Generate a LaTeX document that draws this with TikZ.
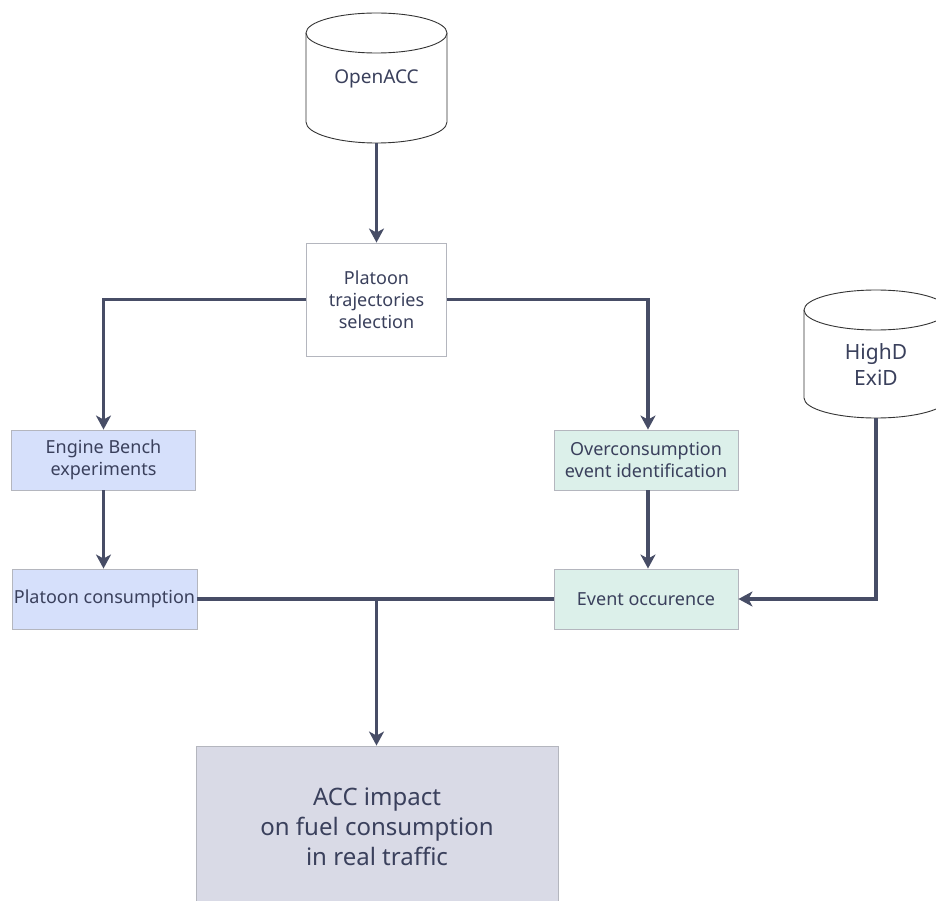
\documentclass[tikz,border=0pt]{standalone}
\usepackage{fontspec}
\setmainfont{Noto Sans}
\usetikzlibrary{arrows.meta,calc}
\definecolor{txt}{HTML}{3A405C}
\definecolor{ln}{HTML}{474D66}
\definecolor{bd}{HTML}{B4B6BE}
\definecolor{bluef}{HTML}{D6E0FB}
\definecolor{greenf}{HTML}{DCF0EA}
\definecolor{accf}{HTML}{D9DAE6}
\tikzset{
  box/.style={rectangle, draw=bd, line width=0.9pt, text=txt, align=center, inner sep=0pt},
  cyl/.style={draw=black!80, line width=0.9pt, fill=white},
  arr/.style={draw=ln, line width=3.2pt, -{Stealth[length=14pt,width=15pt,inset=4pt]}},
  plain/.style={draw=ln, line width=3.2pt},
  lbl/.style={text=txt, align=center, font=\fontsize{18}{22}\selectfont},
  bfont/.style={font=\fontsize{18}{22}\selectfont}
}
\begin{document}
\begin{tikzpicture}[x=1pt,y=-1pt]
\useasboundingbox (0,0) rectangle (936,901);
% OpenACC cylinder
\draw[cyl] (306,33) -- (306,122) arc[start angle=180,end angle=360,x radius=70.5pt,y radius=21pt] -- (447,33);
\draw[cyl] (376.5,33) ellipse[x radius=70.5pt,y radius=20pt];
\node[inner sep=0pt, minimum width=141pt, minimum height=130pt] (openacc) at (376.5,78) {};
\node[lbl, font=\fontsize{19}{22}\selectfont] (openacclbl) at (376.5,79) {OpenACC};
% HighD cylinder
\draw[cyl] (804,310) -- (804,398) arc[start angle=180,end angle=360,x radius=72pt,y radius=20pt] -- (948,310);
\draw[cyl] (876,310) ellipse[x radius=72pt,y radius=20pt];
\node[inner sep=0pt, minimum width=144pt, minimum height=128pt] (highd) at (876,354) {};
\node[text=txt, align=center, font=\fontsize{21}{26}\selectfont] (highdlbl) at (876,365) {HighD\\ExiD};
% boxes
\node[box, fill=white, minimum width=140pt, minimum height=113pt, bfont] (trajsel) at (376.5,299.5) {Platoon\\trajectories\\selection};
\node[box, fill=bluef, minimum width=184pt, minimum height=60pt, bfont] (engine) at (103.5,460) {Engine Bench\\experiments};
\node[box, fill=bluef, minimum width=185pt, minimum height=60pt, bfont] (platcons) at (104.5,599) {Platoon consumption};
\node[box, fill=greenf, minimum width=184pt, minimum height=60pt, bfont] (overc) at (646,460) {Overconsumption\\event identification};
\node[box, fill=greenf, minimum width=184pt, minimum height=60pt, bfont] (evocc) at (646,599) {Event occurence};
\node[box, fill=accf, minimum width=362pt, minimum height=162pt, font=\fontsize{24}{30}\selectfont] (acc) at (377,827) {ACC impact\\on fuel consumption\\in real traffic};
% connectors
\coordinate (junc) at (376.5,599);
\draw[plain] (platcons.east) -- (evocc.west);
\draw[arr] (junc) -- (junc |- acc.north);
\draw[arr] (openacc.south) -- (trajsel.north);
\draw[arr] (trajsel.west) -| (engine.north);
\draw[arr] (trajsel.east) -| ($(overc.north)+(2,0)$);
\draw[arr] (engine.south) -- (engine.south |- platcons.north);
\draw[arr] ($(overc.south)+(2,0)$) -- ($(evocc.north)+(2,0)$);
\draw[arr] (highd.south) |- (evocc.east);
\end{tikzpicture}
\end{document}
